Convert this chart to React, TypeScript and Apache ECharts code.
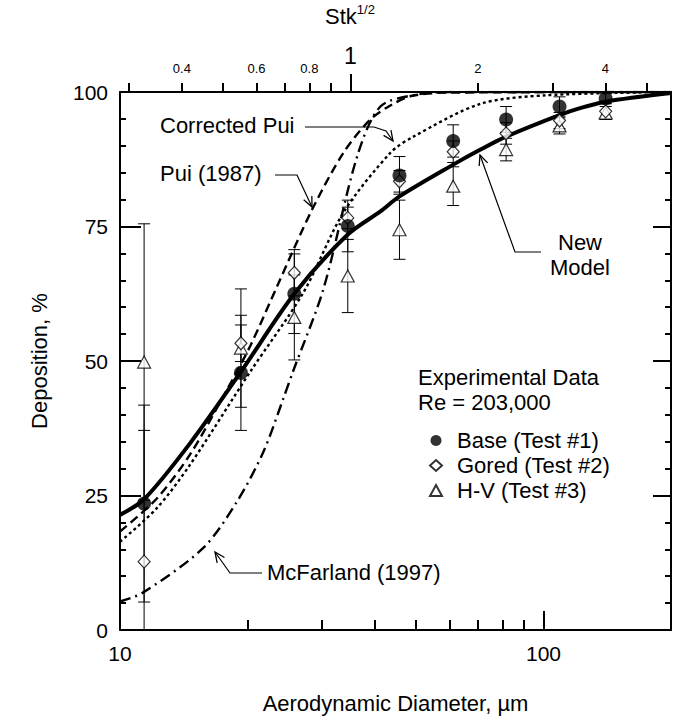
import React, { useEffect, useRef } from "react";
import * as echarts from "echarts";

const FONT = "'Liberation Sans', Arial, Helvetica, sans-serif";

// ---- model curves (aerodynamic diameter µm, deposition %) ----
const newModelD = [10, 11.4, 14.6, 19.3, 25.8, 34.5, 41.2, 45.7, 61.2, 71, 81.6, 109, 122, 140, 200];
const newModelV = [21.4, 24.3, 34.6, 48, 62.5, 73.5, 77.8, 80.6, 86.5, 89.3, 91.7, 95.7, 97, 98.2, 99.8];

const puiD = [10, 12.2, 14.6, 17.5, 20.3, 23.5, 28.4, 33.7, 38.9, 43.5, 49, 60, 200];
const puiV = [18.3, 24.4, 32.5, 43.3, 52.8, 63.9, 78.1, 88.7, 94.8, 97.5, 99.3, 99.9, 100];

const corrPuiD = [10, 12.2, 14.6, 20.3, 27.1, 33.7, 43.5, 49.3, 71, 102, 200];
const corrPuiV = [16.4, 22.6, 30.6, 48, 62.7, 77.6, 88.7, 91.7, 97.8, 99.4, 100];

const mcfD = [10, 11.3, 15.7, 18.9, 21.8, 24.3, 25.6, 30.2, 36.3, 41.2, 50, 60, 200];
const mcfV = [5.3, 6.9, 15.2, 23.9, 33.1, 43, 48, 63.3, 88, 97.3, 99.5, 100, 100];

// ---- experimental data ----
const diam = [11.4, 19.3, 25.8, 34.5, 45.7, 61.2, 81.6, 109.1, 140.2];
const baseV = [23.5, 47.8, 62.5, 75.1, 84.5, 90.9, 94.9, 97.3, 98.8];
const baseErr = [18.3, 10.7, 7.4, 4.8, 3.5, 3.0, 2.4, 1.8, 1.0];
const goredV = [12.7, 53.3, 66.4, 76.6, 83.4, 88.9, 92.3, 94.7, 96.4];
const goredErr = [24.4, 3.4, 4.3, 2.0, 2.0, 2.0, 2.0, 1.5, 1.5];
const hvV = [49.8, 52.4, 58.1, 65.8, 74.4, 82.5, 89.3, 93.7, 96.1];
const hvErr = [25.7, 11.0, 7.9, 6.8, 5.5, 3.6, 2.1, 1.5, 1.2];

// ---- axis ticks ----
const xMajorTicks = [10, 100];
const xMinorTicks = [20, 30, 40, 50, 60, 70, 80, 90, 200];
const stkScale = 35; // Stk^1/2 = d / 35
const stkMinorTicks = [0.3, 0.4, 0.5, 0.6, 0.7, 0.8, 0.9, 2, 3, 4, 5];
const stkMinorLabels = [0.4, 0.6, 0.8, 2, 4];
const stkMajorTicks = [1];

const pairs = (xs: number[], ys: number[]) => xs.map((x, i) => [x, ys[i]]);

function errSeries(vals: number[], errs: number[]) {
  return {
    type: "custom",
    xAxisIndex: 0,
    yAxisIndex: 0,
    silent: true,
    z: 2,
    data: diam.map((d, i) => [d, vals[i] - errs[i], vals[i] + errs[i]]),
    renderItem: (_p: any, api: any) => {
      const x = api.value(0);
      const loRaw = api.value(1);
      const hiRaw = api.value(2);
      const lo = Math.max(0, loRaw);
      const hi = Math.min(100, hiRaw);
      const pLo = api.coord([x, lo]);
      const pHi = api.coord([x, hi]);
      const st = { stroke: "#000", lineWidth: 1 };
      const w = 6;
      const children: any[] = [
        { type: "line", shape: { x1: pLo[0], y1: pLo[1], x2: pHi[0], y2: pHi[1] }, style: st },
      ];
      if (loRaw >= 0)
        children.push({ type: "line", shape: { x1: pLo[0] - w, y1: pLo[1], x2: pLo[0] + w, y2: pLo[1] }, style: st });
      if (hiRaw <= 100)
        children.push({ type: "line", shape: { x1: pHi[0] - w, y1: pHi[1], x2: pHi[0] + w, y2: pHi[1] }, style: st });
      return { type: "group", children };
    },
  };
}

function arrow(points: number[][]) {
  const n = points.length;
  const tip = points[n - 1];
  const prev = points[n - 2];
  const dx = tip[0] - prev[0];
  const dy = tip[1] - prev[1];
  const len = Math.hypot(dx, dy);
  const ux = dx / len;
  const uy = dy / len;
  const L = 10;
  const H = 4.5;
  const bx = tip[0] - ux * L;
  const by = tip[1] - uy * L;
  const w1 = [bx - uy * H, by + ux * H];
  const w2 = [bx + uy * H, by - ux * H];
  return [
    { type: "polyline", shape: { points }, style: { stroke: "#000", lineWidth: 1.2, fill: null } },
    { type: "polyline", shape: { points: [w1, tip, w2] }, style: { stroke: "#000", lineWidth: 1.3, fill: null } },
  ];
}

function label(text: string, x: number, y: number, align = "left") {
  return {
    type: "text",
    x,
    y,
    style: { text, fontSize: 22, fontFamily: FONT, fill: "#000", align, verticalAlign: "middle" },
  };
}

export default function App() {
  const ref = useRef<HTMLDivElement>(null);

  useEffect(() => {
    if (!ref.current) return;
    const chart = echarts.init(ref.current, null, { renderer: "svg" });
    const black = "#000";
    const lineCommon = { type: "line", showSymbol: false, symbol: "none", smooth: 0.3, silent: true, z: 3 };

    const option: any = {
      animation: false,
      backgroundColor: "#fff",
      grid: { left: 120, top: 92, width: 551, height: 540 },
      legend: {
        orient: "vertical",
        left: 429,
        top: 428,
        padding: 0,
        itemGap: 0,
        itemWidth: 12,
        itemHeight: 11,
        selectedMode: false,
        data: ["Base (Test #1)", "Gored (Test #2)", "H-V (Test #3)"],
        textStyle: { fontSize: 22, fontFamily: FONT, color: black, lineHeight: 25, padding: [0, 0, 0, 10] },
      },
      xAxis: [
        {
          type: "log",
          position: "bottom",
          min: 10,
          max: 200,
          name: "Aerodynamic Diameter, µm",
          nameLocation: "middle",
          nameGap: 62,
          nameTextStyle: { fontSize: 22, fontFamily: FONT, color: black },
          axisLine: { show: true, lineStyle: { color: black, width: 2 } },
          axisTick: { show: true, inside: true, length: 19, customValues: xMajorTicks, lineStyle: { color: black, width: 2 } },
          axisLabel: { show: true, customValues: xMajorTicks, margin: 13, fontSize: 21, fontFamily: FONT, color: black, formatter: (v: number) => String(Math.round(v)) },
          splitLine: { show: false },
          minorTick: { show: false },
        },
        {
          type: "log",
          position: "bottom",
          min: 10,
          max: 200,
          axisLine: { show: false },
          axisTick: { show: true, inside: true, length: 10, customValues: xMinorTicks, lineStyle: { color: black, width: 2 } },
          axisLabel: { show: false },
          splitLine: { show: false },
        },
        {
          type: "log",
          position: "top",
          min: 10 / stkScale,
          max: 200 / stkScale,
          axisLine: { show: true, lineStyle: { color: black, width: 2 } },
          axisTick: { show: true, inside: false, length: 9, customValues: stkMinorTicks, lineStyle: { color: black, width: 2 } },
          axisLabel: { show: true, customValues: stkMinorLabels, margin: 17, fontSize: 13, fontFamily: FONT, color: black, formatter: (v: number) => String(v) },
          splitLine: { show: false },
        },
        {
          type: "log",
          position: "top",
          min: 10 / stkScale,
          max: 200 / stkScale,
          axisLine: { show: false },
          axisTick: { show: true, inside: false, length: 18, customValues: stkMajorTicks, lineStyle: { color: black, width: 2 } },
          axisLabel: { show: true, customValues: stkMajorTicks, margin: 25, fontSize: 23, fontFamily: FONT, color: black, formatter: (v: number) => String(v) },
          splitLine: { show: false },
        },
      ],
      yAxis: [
        {
          type: "value",
          position: "left",
          min: 0,
          max: 100,
          interval: 25,
          name: "Deposition, %",
          nameLocation: "middle",
          nameGap: 70,
          nameTextStyle: { fontSize: 22, fontFamily: FONT, color: black },
          axisLine: { show: true, lineStyle: { color: black, width: 2 } },
          axisTick: { show: true, inside: true, length: 21, lineStyle: { color: black, width: 2 } },
          minorTick: { show: true, splitNumber: 5, length: 6, lineStyle: { color: black, width: 2 } },
          axisLabel: { show: true, margin: 12, fontSize: 21, fontFamily: FONT, color: black },
          splitLine: { show: false },
          minorSplitLine: { show: false },
        },
        {
          type: "value",
          position: "right",
          min: 0,
          max: 100,
          interval: 25,
          axisLine: { show: true, lineStyle: { color: black, width: 2 } },
          axisTick: { show: true, inside: true, length: 18, lineStyle: { color: black, width: 2 } },
          minorTick: { show: true, splitNumber: 5, length: 6, lineStyle: { color: black, width: 2 } },
          axisLabel: { show: false },
          splitLine: { show: false },
        },
      ],
      series: [
        { ...lineCommon, name: "McFarland (1997)", data: pairs(mcfD, mcfV), lineStyle: { color: black, width: 2.4, type: [11, 5, 2, 5] } },
        { ...lineCommon, name: "Corrected Pui", data: pairs(corrPuiD, corrPuiV), lineStyle: { color: black, width: 2.4, type: [3, 3] } },
        { ...lineCommon, name: "Pui (1987)", data: pairs(puiD, puiV), lineStyle: { color: black, width: 2.4, type: [9, 5] } },
        { ...lineCommon, name: "New Model", data: pairs(newModelD, newModelV), lineStyle: { color: black, width: 4 }, z: 4 },
        errSeries(hvV, hvErr),
        errSeries(goredV, goredErr),
        errSeries(baseV, baseErr),
        {
          type: "scatter",
          name: "H-V (Test #3)",
          data: pairs(diam, hvV),
          symbol: "triangle",
          symbolSize: [13, 12],
          itemStyle: { color: "#fff", borderColor: black, borderWidth: 1.2 },
          z: 5,
        },
        {
          type: "scatter",
          name: "Gored (Test #2)",
          data: pairs(diam, goredV),
          symbol: "diamond",
          symbolSize: [12, 13],
          itemStyle: { color: "#fff", borderColor: black, borderWidth: 1.2 },
          z: 6,
        },
        {
          type: "scatter",
          name: "Base (Test #1)",
          data: pairs(diam, baseV),
          symbol: "circle",
          symbolSize: 14,
          itemStyle: { color: black, borderColor: black, borderWidth: 0 },
          z: 7,
        },
      ],
      graphic: [
        {
          type: "text",
          x: 350,
          y: 16,
          style: {
            text: "{a|Stk}{b|1/2}",
            align: "center",
            verticalAlign: "middle",
            fill: black,
            rich: {
              a: { fontSize: 22, fontFamily: FONT, fill: black, lineHeight: 26 },
              b: { fontSize: 13, fontFamily: FONT, fill: black, verticalAlign: "top" },
            },
          },
        },
        label("Corrected Pui", 160, 125),
        ...arrow([[305, 127], [374, 127], [386, 131], [393, 141]]),
        label("Pui (1987)", 160, 173),
        ...arrow([[275, 175], [297, 175], [312, 207]]),
        label("New", 580, 242, "center"),
        label("Model", 580, 267, "center"),
        ...arrow([[541, 252], [515, 252], [480, 155]]),
        label("McFarland (1997)", 267, 572),
        ...arrow([[262, 573], [230, 573], [215, 552]]),
        label("Experimental Data", 418, 377),
        label("Re = 203,000", 418, 402),
      ],
    };

    chart.setOption(option);
    return () => chart.dispose();
  }, []);

  return <div ref={ref} style={{ position: "fixed", left: 0, top: 0, width: 678, height: 719 }} />;
}
